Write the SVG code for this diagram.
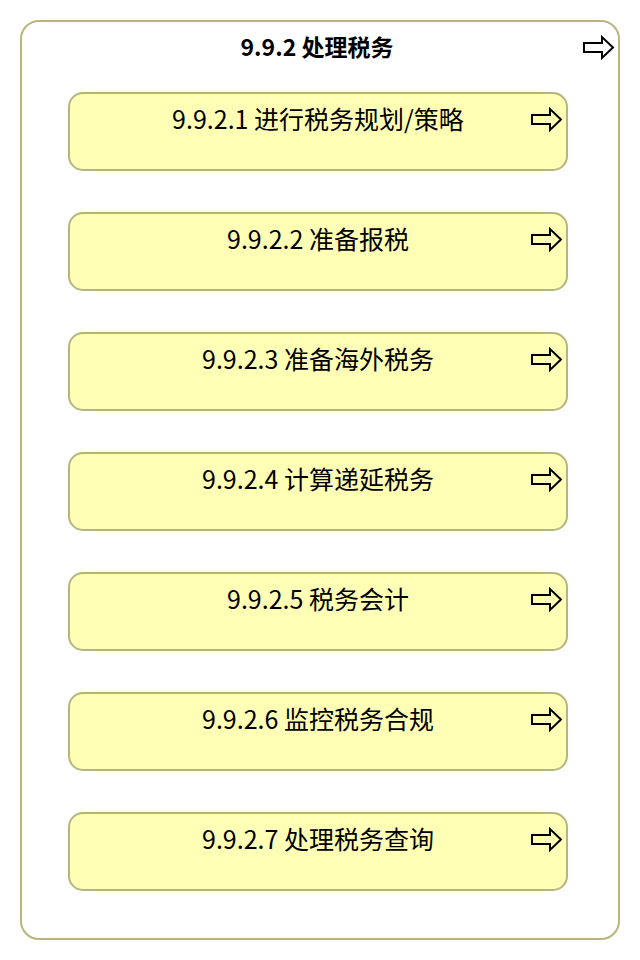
<svg xmlns="http://www.w3.org/2000/svg" xmlns:xlink="http://www.w3.org/1999/xlink" width="640" height="960" viewBox="0 0 640 960">
<style>
.outer{fill:#ffffff;stroke:#b5b57d;stroke-width:2}
.box{fill:#ffffb5;stroke:#b5b57d;stroke-width:2}
.t{font-family:"Noto Sans CJK SC","Noto Sans",sans-serif;font-size:25px;fill:#000;text-anchor:middle}
.title{font-family:"Noto Sans CJK SC","Noto Sans",sans-serif;font-size:23px;font-weight:bold;fill:#000;text-anchor:middle}
.arr{fill:none;stroke:#000;stroke-width:2;stroke-linejoin:miter}
</style>
<defs>
<path id="arrow" class="arr" d="M0,6 H18 V0 L29,10.5 L18,21 V15 H0 Z"/>
</defs>
<g id="container">
<rect class="outer" x="21" y="21" width="598" height="918" rx="18" ry="18"/>
<text class="title" x="317" y="56">9.9.2 处理税务</text>
<use xlink:href="#arrow" x="584" y="37"/>
</g>
<g id="connectors"></g>
<g id="n1"><rect class="box" x="69" y="93" width="498" height="77" rx="14" ry="14"/><text class="t" x="318" y="129">9.9.2.1 进行税务规划/策略</text><use xlink:href="#arrow" x="532" y="109"/></g>
<g id="n2"><rect class="box" x="69" y="213" width="498" height="77" rx="14" ry="14"/><text class="t" x="318" y="249">9.9.2.2 准备报税</text><use xlink:href="#arrow" x="532" y="229"/></g>
<g id="n3"><rect class="box" x="69" y="333" width="498" height="77" rx="14" ry="14"/><text class="t" x="318" y="369">9.9.2.3 准备海外税务</text><use xlink:href="#arrow" x="532" y="349"/></g>
<g id="n4"><rect class="box" x="69" y="453" width="498" height="77" rx="14" ry="14"/><text class="t" x="318" y="489">9.9.2.4 计算递延税务</text><use xlink:href="#arrow" x="532" y="469"/></g>
<g id="n5"><rect class="box" x="69" y="573" width="498" height="77" rx="14" ry="14"/><text class="t" x="318" y="609">9.9.2.5 税务会计</text><use xlink:href="#arrow" x="532" y="589"/></g>
<g id="n6"><rect class="box" x="69" y="693" width="498" height="77" rx="14" ry="14"/><text class="t" x="318" y="729">9.9.2.6 监控税务合规</text><use xlink:href="#arrow" x="532" y="709"/></g>
<g id="n7"><rect class="box" x="69" y="813" width="498" height="77" rx="14" ry="14"/><text class="t" x="318" y="849">9.9.2.7 处理税务查询</text><use xlink:href="#arrow" x="532" y="829"/></g>
</svg>
